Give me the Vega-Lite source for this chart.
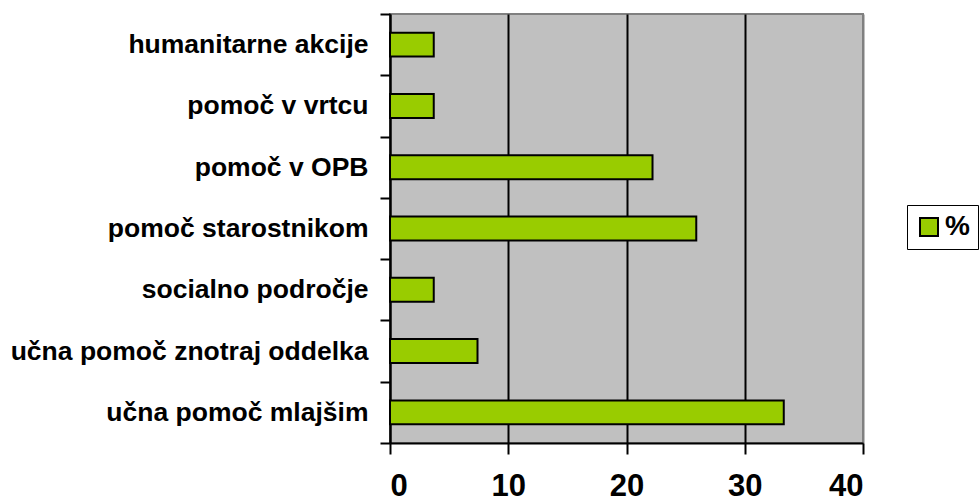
{
  "$schema": "https://vega.github.io/schema/vega-lite/v6.json",
  "width": 473,
  "height": 429,
  "autosize": "none",
  "padding": {"left": 390, "top": 14, "right": 116, "bottom": 59},
  "background": "white",
  "config": {
    "font": "Liberation Sans",
    "view": {"fill": "#C0C0C0", "stroke": "#808080", "strokeWidth": 2}
  },
  "data": {
    "values": [
      {"activity": "humanitarne akcije", "pct": 3.7},
      {"activity": "pomoč v vrtcu", "pct": 3.7},
      {"activity": "pomoč v OPB", "pct": 22.2},
      {"activity": "pomoč starostnikom", "pct": 25.9},
      {"activity": "socialno področje", "pct": 3.7},
      {"activity": "učna pomoč znotraj oddelka", "pct": 7.4},
      {"activity": "učna pomoč mlajšim", "pct": 33.3}
    ]
  },
  "mark": {"type": "bar", "height": {"band": 0.39}, "stroke": "black", "strokeWidth": 2},
  "encoding": {
    "y": {
      "field": "activity",
      "type": "nominal",
      "sort": null,
      "scale": {"paddingInner": 0, "paddingOuter": 0},
      "axis": {
        "title": null,
        "tickBand": "extent",
        "domainColor": "black",
        "domainWidth": 2,
        "tickColor": "black",
        "tickWidth": 2,
        "tickSize": 10,
        "labelPadding": 12,
        "labelFont": "Liberation Sans",
        "labelFontWeight": "bold",
        "labelFontSize": 26.5,
        "labelColor": "black",
        "labelLimit": 500,
        "grid": false
      }
    },
    "x": {
      "field": "pct",
      "type": "quantitative",
      "scale": {"domain": [0, 40], "nice": false},
      "axis": {
        "title": null,
        "values": [0, 10, 20, 30, 40],
        "domainColor": "black",
        "domainWidth": 2,
        "tickColor": "black",
        "tickWidth": 2,
        "tickSize": 11,
        "labelPadding": 17,
        "labelFont": "Liberation Sans",
        "labelFontWeight": "bold",
        "labelFontSize": 31,
        "labelColor": "black",
        "grid": true,
        "gridWidth": 2,
        "gridColor": {"condition": {"test": "datum.value == 40", "value": "#808080"}, "value": "black"},
        "gridOpacity": 1
      }
    },
    "color": {
      "datum": "%",
      "type": "nominal",
      "scale": {"range": ["#99CC00"]},
      "legend": {
        "title": null,
        "orient": "none",
        "legendX": 517,
        "legendY": 191,
        "fillColor": "white",
        "strokeColor": "black",
        "padding": 8,
        "symbolType": "square",
        "symbolSize": 324,
        "symbolStrokeColor": "black",
        "symbolStrokeWidth": 2,
        "symbolOpacity": 1,
        "labelFont": "Liberation Sans",
        "labelFontWeight": "bold",
        "labelFontSize": 28,
        "labelColor": "black",
        "labelOffset": 2
      }
    }
  }
}
